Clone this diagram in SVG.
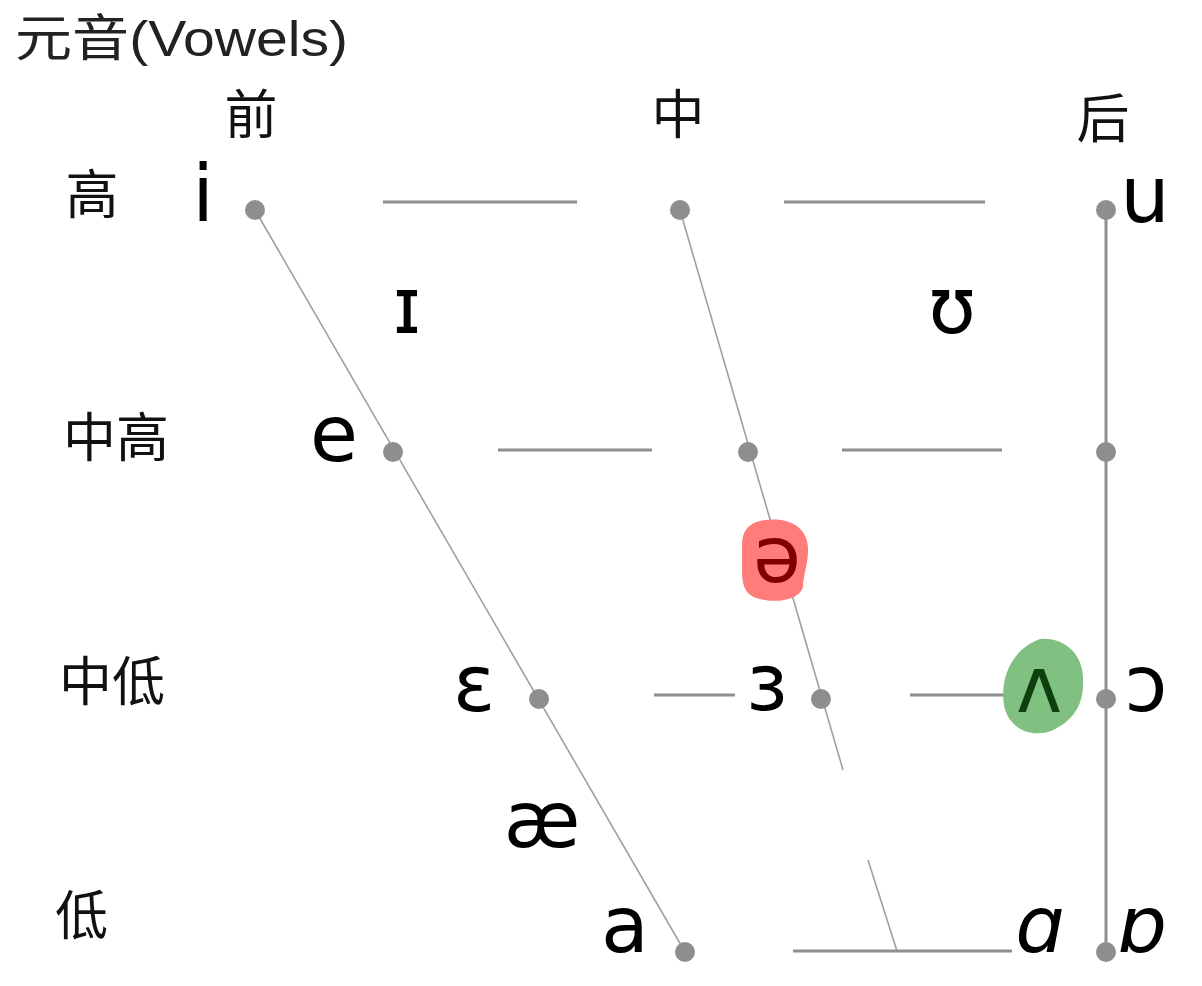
<svg xmlns="http://www.w3.org/2000/svg" width="1202" height="986" viewBox="0 0 1202 986">
<style>
.title{font-family:"Liberation Sans","Noto Sans CJK SC",sans-serif;font-size:50px;fill:#222}
.cjk{font-family:"Noto Sans CJK SC",sans-serif;font-size:53px;fill:#111}
.ipa{font-family:"DejaVu Sans",sans-serif;font-size:78px;fill:#000;text-anchor:middle}
.it{font-style:italic}
.hl{stroke:#8e8e8e;stroke-width:3;fill:none}
.dl{stroke:#a0a0a0;stroke-width:1.6;fill:none}
.dot{fill:#8e8e8e}
</style>
<rect width="1202" height="986" fill="#fff"/>
<text class="title" x="15" y="56" textLength="333" lengthAdjust="spacingAndGlyphs">元音(Vowels)</text>
<g id="labels">
<text class="cjk" x="251" y="134" text-anchor="middle">前</text>
<text class="cjk" x="678" y="134" text-anchor="middle">中</text>
<text class="cjk" x="1103" y="138" text-anchor="middle">后</text>
<text class="cjk" x="92" y="214" text-anchor="middle">高</text>
<text class="cjk" x="63" y="457">中高</text>
<text class="cjk" x="59" y="701">中低</text>
<text class="cjk" x="55" y="935">低</text>
</g>
<g id="connectors">
<line class="dl" x1="255" y1="210" x2="685" y2="952"/>
<line class="dl" x1="680" y1="210" x2="843" y2="770"/>
<line class="dl" x1="868" y1="860" x2="897" y2="951"/>
<line class="hl" x1="1106" y1="210" x2="1106" y2="952"/>
<line class="hl" x1="383" y1="202" x2="577" y2="202"/>
<line class="hl" x1="784" y1="202" x2="985" y2="202"/>
<line class="hl" x1="498" y1="450" x2="652" y2="450"/>
<line class="hl" x1="842" y1="450" x2="1002" y2="450"/>
<line class="hl" x1="654" y1="695" x2="735" y2="695"/>
<line class="hl" x1="910" y1="695" x2="1010" y2="695"/>
<line class="hl" x1="793" y1="951" x2="1012" y2="951"/>
</g>
<g id="highlights">
<path id="schwa-mark" d="M760 521 C786 515 809 526 808 550 C808 566 803 575 803 587 C799 601 774 603 760 599 C745 596 742 585 742 570 L742 545 C742 531 748 524 760 521 Z" fill="#ff7c7a"/>
<path id="wedge-mark" d="M1040 639 C1066 637 1084 656 1083 681 C1084 706 1072 722 1051 731 C1030 738 1008 728 1004 705 C1000 680 1010 650 1040 639 Z" fill="#80c080"/>
</g>
<g id="dots">
<circle class="dot" cx="255" cy="210" r="10"/>
<circle class="dot" cx="680" cy="210" r="10"/>
<circle class="dot" cx="1106" cy="210" r="10"/>
<circle class="dot" cx="393" cy="452" r="10"/>
<circle class="dot" cx="748" cy="452" r="10"/>
<circle class="dot" cx="1106" cy="452" r="10"/>
<circle class="dot" cx="539" cy="699" r="10"/>
<circle class="dot" cx="821" cy="699" r="10"/>
<circle class="dot" cx="1106" cy="699" r="10"/>
<circle class="dot" cx="685" cy="952" r="10"/>
<circle class="dot" cx="1106" cy="952" r="10"/>
</g>
<g id="vowels">
<g id="v-i"><text class="ipa" x="203" y="221">i</text></g>
<g id="v-u"><text class="ipa" x="1145" y="222">u</text></g>
<g id="v-I"><text class="ipa" x="407" y="333">ɪ</text></g>
<g id="v-U"><text class="ipa" x="952" y="333">ʊ</text></g>
<g id="v-e"><text class="ipa" x="334" y="461">e</text></g>
<g id="v-schwa"><text class="ipa" x="777" y="582" fill="#800000" style="fill:#800000">ə</text></g>
<g id="v-eps"><text class="ipa" x="474" y="711">ɛ</text></g>
<g id="v-er"><text class="ipa" x="767" y="710">ɜ</text></g>
<g id="v-wedge"><text class="ipa" x="1039" y="712" style="fill:#0f3f0f">ʌ</text></g>
<g id="v-o"><text class="ipa" x="1146" y="711">ɔ</text></g>
<g id="v-ae"><text class="ipa" x="542" y="847">æ</text></g>
<g id="v-a"><text class="ipa" x="625" y="952">a</text></g>
<g id="v-alpha"><text class="ipa it" x="1040" y="952">ɑ</text></g>
<g id="v-turned-alpha"><text class="ipa it" x="1145" y="952">ɒ</text></g>
</g>
</svg>
